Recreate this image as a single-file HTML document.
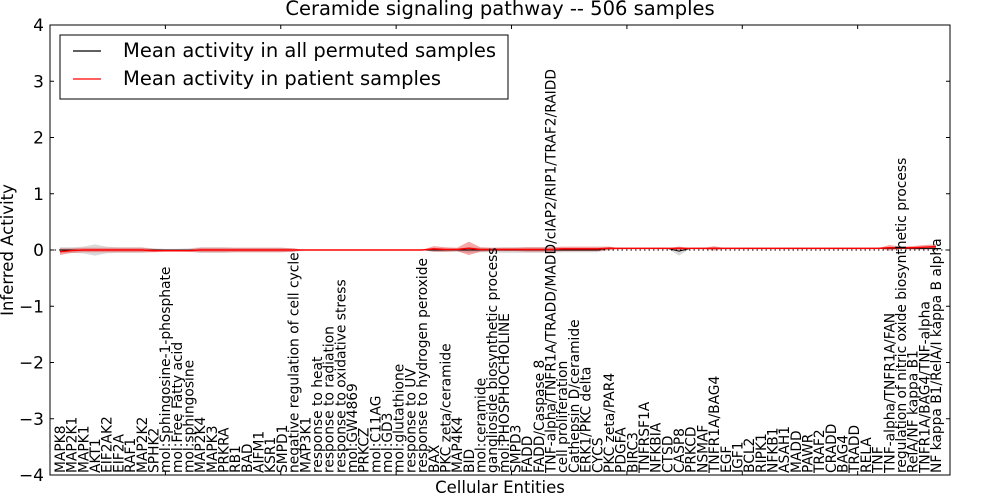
<!DOCTYPE html>
<html><head><meta charset="utf-8"><style>
body{margin:0;background:#fff}
svg{display:block;font-family:"DejaVu Sans","Liberation Sans",sans-serif}
</style></head><body>
<svg id="chart" width="1000" height="500" viewBox="0 0 1000 500" xmlns="http://www.w3.org/2000/svg">
<text x="500" y="15" font-size="19.5" text-anchor="middle">Ceramide signaling pathway -- 506 samples</text>
<text transform="translate(13,250) rotate(-90)" font-size="16.5" text-anchor="middle">Inferred Activity</text>
<text x="500" y="493" font-size="16.5" text-anchor="middle">Cellular Entities</text>
<g id="plot"></g>
<rect x="50" y="25" width="900" height="450" fill="none" stroke="#000" stroke-width="1"/>
<g>
<rect x="60" y="35" width="448" height="64" fill="#fff" stroke="#000" stroke-width="1"/>
<line x1="73" y1="51" x2="101" y2="51" stroke="#000" stroke-width="1.2"/>
<text x="123" y="57" font-size="19.5">Mean activity in all permuted samples</text>
<line x1="73" y1="79" x2="101" y2="79" stroke="#f00" stroke-width="1.2"/>
<text x="123" y="85" font-size="19.5">Mean activity in patient samples</text>
</g>
</svg>
<script>
const categories=["MAPK8","MAP2K1","MAPK1","AKT1","EIF2AK2","EIF2A","RAF1","MAP2K2","SPHK2","mol:Sphingosine-1-phosphate","mol:Free Fatty acid","mol:sphingosine","MAP2K4","MAPK3","PRKRA","RB1","BAD","AIFM1","KSR1","SMPD1","negative regulation of cell cycle","MAP3K1","response to heat","response to radiation","response to oxidative stress","mol:GW4869","PRKCZ","mol:C11AG","mol:GD3","mol:glutathione","response to UV","response to hydrogen peroxide","BAX","PKC zeta/ceramide","MAP4K4","BID","mol:ceramide","ganglioside biosynthetic process","mol:PHOSPHOCHOLINE","SMPD3","FADD","FADD/Caspase 8","TNF-alpha/TNFR1A/TRADD/MADD/cIAP2/RIP1/TRAF2/RAIDD","cell proliferation","Cathepsin D/ceramide","ERK1/PKC delta","CYCS","PKC zeta/PAR4","PDGFA","BIRC3","TNFRSF1A","NFKBIA","CTSD","CASP8","PRKCD","NSMAF","TNFR1A/BAG4","EGF","IGF1","BCL2","RIPK1","NFKB1","ASAH1","MADD","PAWR","TRAF2","CRADD","BAG4","TRADD","RELA","TNF","TNF-alpha/TNFR1A/FAN","regulation of nitric oxide biosynthetic process","RelA/NF kappa B1","TNFR1A/BAG4/TNF-alpha","NF kappa B1/RelA/I kappa B alpha"];
const patientMean=[-0.03,-0.01,0,0,0,0,0,0,-0.01,-0.01,-0.01,-0.01,0,0,0,0,0,0,0,0,0,0,0,0,0,0,0,0,0,0,0,0,0.02,0.01,0.01,0.03,0.01,0.01,0.01,0.01,0.01,0.01,0.01,0.02,0.02,0.02,0.02,0.03,0.03,0.03,0.03,0.03,0.03,0.03,0.03,0.03,0.03,0.03,0.03,0.03,0.03,0.03,0.03,0.03,0.03,0.03,0.03,0.03,0.03,0.03,0.03,0.04,0.04,0.04,0.05,0.06];
const patientSpread=[0.06,0.04,0.04,0.04,0.04,0.04,0.04,0.04,0.03,0.02,0.02,0.02,0.04,0.04,0.04,0.04,0.04,0.04,0.04,0.04,0.03,0,0,0,0,0,0,0,0,0,0,0,0.05,0.04,0.03,0.12,0.04,0.03,0.03,0.03,0.04,0.04,0.04,0.04,0.04,0.04,0.04,0.03,0,0,0,0,0,0.03,0,0,0.04,0,0,0,0,0,0,0,0,0,0,0,0,0,0,0.05,0.02,0.03,0.04,0.04];
const permutedMean=[0,0,0,0,0,0,0,0,0,0,0,0,0,0,0,0,0,0,0,0,0,0,0,0,0,0,0,0,0,0,0,0,0,0,0,0,0,0,0,0,0,0,0,0,0,0,0,0.03,0.03,0.03,0.03,0.03,0.03,-0.02,0.03,0.03,0.03,0.03,0.03,0.03,0.03,0.03,0.03,0.03,0.03,0.03,0.03,0.03,0.03,0.03,0.03,0.03,0.03,0.03,0.03,0.03];
const permutedSpread=[0.05,0.05,0.06,0.1,0.06,0.05,0.05,0.05,0.03,0.02,0.02,0.03,0.05,0.05,0.05,0.04,0.04,0.04,0.04,0.04,0.03,0,0,0,0,0,0,0,0,0,0,0,0.03,0.03,0.03,0.05,0.04,0.04,0.05,0.05,0.05,0.05,0.05,0.04,0.04,0.04,0.04,0.03,0,0,0,0,0,0.08,0,0,0.02,0,0,0,0,0,0,0,0,0,0,0,0,0,0,0.02,0.01,0.02,0.02,0.02];
const yTicks=[4,3,2,1,0,-1,-2,-3,-4];
const NS="http://www.w3.org/2000/svg";
const plot=document.getElementById('plot');
const xPx=i=>60+i*11.68;
const yPx=v=>250-v*56.25;
function mk(tag,attrs){const e=document.createElementNS(NS,tag);for(const k in attrs)e.setAttribute(k,attrs[k]);plot.appendChild(e);return e;}
function band(mean,spread,fill){
  let up=mean.map((m,i)=>xPx(i)+','+yPx(m+spread[i]));
  let dn=mean.map((m,i)=>xPx(i)+','+yPx(m-spread[i])).reverse();
  const p=mk('polygon',{points:up.concat(dn).join(' '),fill:fill});
  
}
function line(mean,color,name,w){
  const p=mk('polyline',{points:mean.map((m,i)=>xPx(i)+','+yPx(m)).join(' '),fill:'none',stroke:color,'stroke-width':w});
  
  
}
band(permutedMean,permutedSpread,'rgba(170,170,170,0.45)');

band(patientMean,patientSpread,'rgba(235,60,60,0.45)');

const zl=mk('line',{x1:50,x2:950,y1:yPx(0),y2:yPx(0),stroke:'#000','stroke-width':1,'stroke-dasharray':'1.5,3'});


line(permutedMean,'#000','permuted-mean-line',1);
line(patientMean,'#f00','patient-mean-line',1.5);
yTicks.forEach(v=>{
  const y=yPx(v);
  mk('line',{x1:50,x2:54,y1:y,y2:y,stroke:'#000'});
  mk('line',{x1:946,x2:950,y1:y,y2:y,stroke:'#000'});
  const t=mk('text',{x:44,y:y+6,'font-size':17,'text-anchor':'end'});
  t.textContent=(v<0?'\u2212'+(-v):String(v));
  
  
});
for(let k=1;k<8;k++){const x=50+k*115.38;
  mk('line',{x1:x,x2:x,y1:25,y2:29,stroke:'#000'});
  mk('line',{x1:x,x2:x,y1:471,y2:475,stroke:'#000'});}
categories.forEach((c,i)=>{
  const x=xPx(i)+5;
  const t=mk('text',{transform:'translate('+x+',473) rotate(-90)','font-size':13.8});
  t.textContent=c;
  
  
});
</script>
</body></html>
